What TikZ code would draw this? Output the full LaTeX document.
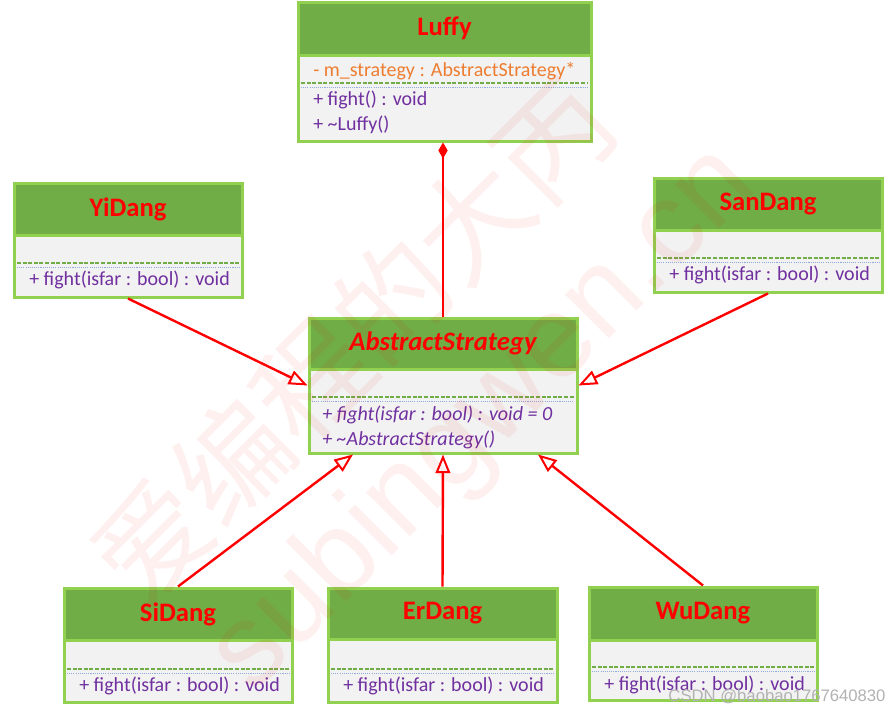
\documentclass[tikz,border=0pt]{standalone}
\usepackage{fontspec}
\setmainfont{Carlito}
\newfontfamily\cjk{Noto Sans CJK SC}
\newfontfamily\wmfont{Liberation Sans}
\usetikzlibrary{arrows.meta,fit,calc}
\definecolor{headgreen}{HTML}{70AD47}
\definecolor{bordergreen}{HTML}{92D050}
\definecolor{bodygray}{HTML}{F2F2F2}
\definecolor{umlred}{HTML}{FF0000}
\definecolor{umlpurple}{HTML}{7030A0}
\definecolor{umlorange}{HTML}{ED7D31}
\definecolor{sepblue}{HTML}{8FAADC}
\newcommand\umlclass[7]{%
  \fill[bodygray] (#2,#3) rectangle (#4,#5);
  \fill[headgreen] (#2,#3) rectangle (#4,#6);
  \draw[bordergreen, line width=2.25pt] (#2,#6) -- (#4,#6);
  \path[sepdash] (#2+3,#7) -- (#4-3,#7);
  \path[sepdot] (#2+3,#7+4) -- (#4-3,#7+4);
  \node[classframe, fit={(#2,#3)(#4,#5)}] (#1) {};
}
\begin{document}
\begin{tikzpicture}[x=0.75pt,y=-0.75pt,
  classframe/.style={draw=bordergreen, line width=2.25pt, inner sep=0pt},
  umltitle/.style={font=\bfseries\fontsize{20}{24}\selectfont, text=umlred, inner sep=0pt},
  member/.style={font=\fontsize{15}{18}\selectfont, text=umlpurple, anchor=west, inner sep=0pt},
  attr/.style={member, text=umlorange},
  sepdash/.style={draw=headgreen, line width=1.1pt, dash pattern=on 3pt off 1.2pt},
  sepdot/.style={draw=sepblue, line width=0.7pt, dash pattern=on 0.8pt off 0.8pt},
  link/.style={draw=umlred, line width=1.8pt},
  realize/.style={link, -{Triangle[length=14pt,width=11pt,fill=white,line width=1.5pt]}},
  compose/.style={link, -{Diamond[length=12pt,width=7pt]}},
  watermark/.style={text=umlred, opacity=0.06, inner sep=0pt}
]
\useasboundingbox[fill=white] (0,0) rectangle (889,714);

% Luffy
\umlclass{luffy}{298}{2}{591}{141}{55}{83}
\node[umltitle] (luffyT) at (444.5,28.5) {Luffy};
\node[attr] (luffyA) at (313,71) {- m\_strategy : AbstractStrategy*};
\node[member] (luffyM1) at (313,100) {+ fight() : void};
\node[member] (luffyM2) at (313,125) {+ \textasciitilde Luffy()};

% AbstractStrategy
\umlclass{abs}{309}{318}{577}{453}{369}{397}
\node[umltitle, font=\bfseries\itshape\fontsize{20}{24}\selectfont] (absT) at (443,343.5) {AbstractStrategy};
\node[member, font=\itshape\fontsize{15}{18}\selectfont] (absM1) at (322,415) {+ fight(isfar : bool) : void = 0};
\node[member, font=\itshape\fontsize{15}{18}\selectfont] (absM2) at (322,440) {+ \textasciitilde AbstractStrategy()};

% YiDang
\umlclass{yidang}{14}{183}{242}{297}{235}{263}
\node[umltitle] (yidangT) at (128,209) {YiDang};
\node[member] (yidangM) at (29,280) {+ fight(isfar : bool) : void};

% SanDang
\umlclass{sandang}{654}{178}{882}{292}{230}{258}
\node[umltitle] (sandangT) at (768,204) {SanDang};
\node[member] (sandangM) at (669,275) {+ fight(isfar : bool) : void};

% SiDang
\umlclass{sidang}{64}{588}{292}{702}{640}{669}
\node[umltitle] (sidangT) at (178,614) {SiDang};
\node[member] (sidangM) at (79,686) {+ fight(isfar : bool) : void};

% ErDang
\umlclass{erdang}{328}{588}{557}{702}{639}{669}
\node[umltitle] (erdangT) at (442.5,613.5) {ErDang};
\node[member] (erdangM) at (343,686) {+ fight(isfar : bool) : void};

% WuDang
\umlclass{wudang}{589}{587}{817}{700}{640}{667}
\node[umltitle] (wudangT) at (703,613.5) {WuDang};
\node[member] (wudangM) at (604,685) {+ fight(isfar : bool) : void};

% connectors
\draw[compose] (abs.north) -- (abs.north |- luffy.south);
\draw[realize] (yidang.south) -- (abs.west);
\draw[realize] (sandang.south) -- (abs.east);
\draw[realize] (sidang.north) -- ($(abs.south)+(-90,0)$);
\draw[realize] (erdang.north) -- (abs.south);
\draw[realize] (wudang.north) -- ($(abs.south)+(95,0)$);

% watermarks
\node[watermark, rotate=45, font=\cjk\fontsize{85}{90}\selectfont] (wm1) at (352,340) {爱编程的大丙};
\node[watermark, rotate=45, font=\wmfont\fontsize{88}{96}\selectfont] (wm2) at (485,420) {subingwen.cn};
\node[text=gray!60, inner sep=0pt, font=\wmfont\fontsize{12.5}{14}\selectfont] (csdn) at (777,697) {CSDN @baobao1767640830};
\end{tikzpicture}
\end{document}
